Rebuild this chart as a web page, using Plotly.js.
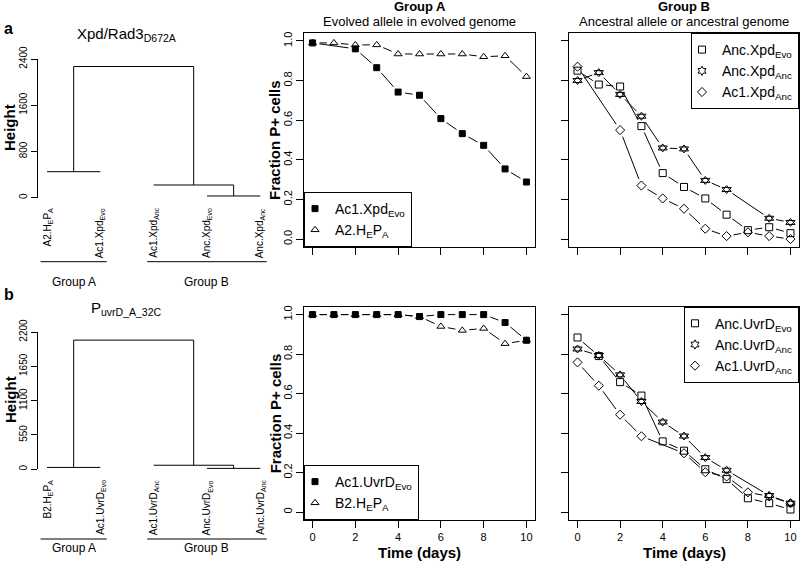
<!DOCTYPE html>
<html><head><meta charset="utf-8">
<script src="https://cdn.plot.ly/plotly-3.0.1.min.js"></script>
<style>html,body{margin:0;padding:0;background:#fff}#chart{width:800px;height:561px}</style>
</head><body><div id="chart"></div>
<script>
// ---------------- data ----------------
const days = [0,1,2,3,4,5,6,7,8,9,10];
const dayTicks = [0,2,4,6,8,10];
const fracTicks = [0,0.2,0.4,0.6,0.8,1.0];
const fracTickTextA = ['0.0','0.2','0.4','0.6','0.8','1.0'];
const fracTickTextB = ['0','0.2','0.4','0.6','0.8','1.0'];

// panel a dendrogram (hclust-style merges; negative = leaf)
const xpdLeaves = ['A2.H<sub>E</sub>P<sub>A</sub>','Ac1.Xpd<sub>Evo</sub>','Ac1.Xpd<sub>Anc</sub>','Anc.Xpd<sub>Evo</sub>','Anc.Xpd<sub>Anc</sub>'];
const xpdMerge = [[-1,-2],[-4,-5],[-3,2],[1,3]];
const xpdHeights = [450,30,220,2270];
const xpdHeightTicks = [0,800,1600,2400];

// panel b dendrogram
const uvrLeaves = ['B2.H<sub>E</sub>P<sub>A</sub>','Ac1.UvrD<sub>Evo</sub>','Ac1.UvrD<sub>Anc</sub>','Anc.UvrD<sub>Evo</sub>','Anc.UvrD<sub>Anc</sub>'];
const uvrMerge = [[-1,-2],[-4,-5],[-3,2],[1,3]];
const uvrHeights = [30,15,65,2070];
const uvrHeightTicks = [0,550,1100,1650,2200];

// panel a, Group A
const ac1XpdEvo = [0.99,null,0.96,0.865,0.742,0.726,0.608,0.532,0.473,0.354,0.288];
const a2HEPA    = [0.99,0.99,0.98,0.98,0.934,0.934,0.934,0.934,0.92,0.925,0.82];
// panel a, Group B
const ancXpdEvo = [0.85,0.78,0.77,0.57,0.333,0.263,0.205,0.123,0.045,0.06,0.03];
const ancXpdAnc = [0.80,0.84,0.73,0.62,0.46,0.455,0.296,0.25,null,0.105,0.084];
const ac1XpdAnc = [0.87,null,0.55,0.27,0.205,0.153,0.052,0.015,0.034,0.015,0.0];
// panel b, Group A
const ac1UvrDEvo = [1,1,1,1,1,0.99,1,1,1,0.96,0.87];
const b2HEPA     = [1,1,1,1,1,0.99,0.94,0.92,0.93,0.853,0.87];
// panel b, Group B
const ancUvrDEvo = [0.884,0.79,0.658,0.59,0.358,0.311,0.217,0.167,0.07,0.045,0.013];
const ancUvrDAnc = [0.826,0.793,0.695,0.56,0.456,0.385,0.276,0.212,null,0.084,0.045];
const ac1UvrDAnc = [0.758,0.64,0.493,0.384,null,0.298,0.202,0.18,0.10,0.08,0.045];

// ---------------- layout helpers ----------------
const W = 800, H = 561;
const FONT = 'Liberation Sans, Arial, Helvetica, sans-serif';
const px = v => v / W;
const py = v => 1 - v / H;

const xRange = [-0.4, 10.4];
const yRange = [-0.04, 1.04];
const midX = [304, 535], rightX = [569, 799];
const topY = [33, 247], botY = [306.7, 520];

function gapped(xs, ys, kx, ky, g) {
  const pts = [];
  xs.forEach((x, i) => { if (ys[i] !== null) pts.push([x, ys[i]]); });
  const ox = [], oy = [];
  for (let i = 0; i < pts.length - 1; i++) {
    const [x0, y0] = pts[i], [x1, y1] = pts[i + 1];
    const L = Math.hypot((x1 - x0) * kx, (y1 - y0) * ky);
    if (L <= 2 * g) continue;
    const f = g / L;
    ox.push(x0 + (x1 - x0) * f, x1 - (x1 - x0) * f, null);
    oy.push(y0 + (y1 - y0) * f, y1 - (y1 - y0) * f, null);
  }
  return { x: ox, y: oy };
}

const traces = [];
const lineStyle = { color: '#000', width: 1 };

function addPanel(xa, ya, xpx, ypx, legend, series) {
  const kx = (xpx[1] - xpx[0]) / (xRange[1] - xRange[0]);
  const ky = (ypx[1] - ypx[0]) / (yRange[1] - yRange[0]);
  series.forEach(s => {
    const seg = gapped(days, s.y, kx, ky, 7);
    traces.push({ type: 'scatter', mode: 'lines', x: seg.x, y: seg.y, xaxis: xa, yaxis: ya,
      line: lineStyle, showlegend: false, hoverinfo: 'skip', connectgaps: false });
  });
  series.forEach(s => {
    if (s.hex) {
      traces.push({ type: 'scatter', mode: 'markers', x: [null], y: [null], xaxis: xa, yaxis: ya,
        name: s.name, legend: legend,
        marker: { symbol: 'hexagram-open', size: 7, color: '#000', line: { width: 1, color: '#000' } } });
      ['triangle-up-open', 'triangle-down-open'].forEach(sym => {
        traces.push({ type: 'scatter', mode: 'markers', x: days, y: s.y, xaxis: xa, yaxis: ya,
          showlegend: false, marker: { symbol: sym, size: 8, color: '#000', line: { width: 1, color: '#000' } } });
      });
    } else {
      traces.push({ type: 'scatter', mode: 'markers', x: days, y: s.y, xaxis: xa, yaxis: ya,
        name: s.name, legend: legend,
        marker: { symbol: s.symbol, size: s.size, color: '#000', line: { width: 1, color: '#000' } } });
    }
  });
}

addPanel('x2', 'y2', midX, topY, 'legend', [
  { y: ac1XpdEvo, name: 'Ac1.Xpd<sub>Evo</sub>', symbol: 'square', size: 6 },
  { y: a2HEPA, name: 'A2.H<sub>E</sub>P<sub>A</sub>', symbol: 'triangle-up-open', size: 7 }
]);
addPanel('x3', 'y3', rightX, topY, 'legend2', [
  { y: ancXpdEvo, name: 'Anc.Xpd<sub>Evo</sub>', symbol: 'square-open', size: 7 },
  { y: ancXpdAnc, name: 'Anc.Xpd<sub>Anc</sub>', hex: true },
  { y: ac1XpdAnc, name: 'Ac1.Xpd<sub>Anc</sub>', symbol: 'diamond-open', size: 7 }
]);
addPanel('x5', 'y5', midX, botY, 'legend3', [
  { y: ac1UvrDEvo, name: 'Ac1.UvrD<sub>Evo</sub>', symbol: 'square', size: 6 },
  { y: b2HEPA, name: 'B2.H<sub>E</sub>P<sub>A</sub>', symbol: 'triangle-up-open', size: 7 }
]);
addPanel('x6', 'y6', rightX, botY, 'legend4', [
  { y: ancUvrDEvo, name: 'Anc.UvrD<sub>Evo</sub>', symbol: 'square-open', size: 7 },
  { y: ancUvrDAnc, name: 'Anc.UvrD<sub>Anc</sub>', hex: true },
  { y: ac1UvrDAnc, name: 'Ac1.UvrD<sub>Anc</sub>', symbol: 'diamond-open', size: 7 }
]);

// dendrogram segments computed from merge table + heights
function dendro(merge, heights, xa, ya) {
  const pos = [];
  const xs = [], ys = [];
  const p = c => c < 0 ? -c : pos[c - 1];
  merge.forEach((m, i) => {
    const h = heights[i];
    const a = p(m[0]), b = p(m[1]);
    xs.push(a, b, null); ys.push(h, h, null);
    m.forEach(c => { if (c > 0) { xs.push(pos[c - 1], pos[c - 1], null); ys.push(heights[c - 1], h, null); } });
    pos.push((a + b) / 2);
  });
  traces.push({ type: 'scatter', mode: 'lines', x: xs, y: ys, xaxis: xa, yaxis: ya,
    line: lineStyle, showlegend: false, hoverinfo: 'skip', connectgaps: false });
}
dendro(xpdMerge, xpdHeights, 'x', 'y');
dendro(uvrMerge, uvrHeights, 'x4', 'y4');

// ---------------- axes ----------------
const dendX = [38, 270];
const leafPx0 = 47, leafStep = 53.33;
const dendXRange = [1 - (leafPx0 - dendX[0]) / leafStep, 1 + (dendX[1] - leafPx0) / leafStep];

function dAxisX(anchor) {
  return { domain: [px(dendX[0]), px(dendX[1])], range: dendXRange, visible: false, anchor: anchor, fixedrange: true };
}
function dAxisY(anchor, ypx, ticks) {
  return { domain: [py(ypx[0]), py(ypx[1])], range: [0, ticks[ticks.length - 1]], anchor: anchor,
    showline: true, linecolor: '#000', linewidth: 1, ticks: 'outside', ticklen: 6, tickcolor: '#000',
    tickvals: ticks, tickangle: -90, tickfont: { size: 10, color: '#000' },
    showgrid: false, zeroline: false, fixedrange: true };
}
function lAxisX(anchor, xpx, labels) {
  return { domain: [px(xpx[0]), px(xpx[1])], range: xRange, anchor: anchor,
    showline: true, mirror: true, linecolor: '#000', linewidth: 1,
    ticks: 'outside', ticklen: 7, tickcolor: '#000', tickvals: dayTicks,
    showticklabels: labels, tickfont: { size: 11, color: '#000' },
    showgrid: false, zeroline: false, fixedrange: true };
}
function lAxisY(anchor, ypx, text) {
  return { domain: [py(ypx[1]), py(ypx[0])], range: yRange, anchor: anchor,
    showline: true, mirror: true, linecolor: '#000', linewidth: 1,
    ticks: 'outside', ticklen: 7, tickcolor: '#000', tickvals: fracTicks,
    ticktext: text || fracTicks.map(String), showticklabels: !!text, tickangle: -90,
    tickfont: { size: 11, color: '#000' },
    showgrid: false, zeroline: false, fixedrange: true };
}

// ---------------- annotations & shapes ----------------
const ann = [];
const shapes = [];
function A(o) { ann.push(Object.assign({ showarrow: false, xref: 'paper', yref: 'paper', font: { family: FONT, size: 13, color: '#000' } }, o)); }

A({ text: '<b>a</b>', x: px(2), y: py(28), xanchor: 'left', yanchor: 'middle', font: { family: FONT, size: 16, color: '#000' } });
A({ text: '<b>b</b>', x: px(2), y: py(294), xanchor: 'left', yanchor: 'middle', font: { family: FONT, size: 16, color: '#000' } });
A({ text: 'Xpd/Rad3<sub>D672A</sub>', x: px(126), y: py(35), xanchor: 'center', yanchor: 'middle', font: { family: FONT, size: 15, color: '#000' } });
A({ text: 'P<sub>uvrD_A_32C</sub>', x: px(126), y: py(308), xanchor: 'center', yanchor: 'middle', font: { family: FONT, size: 15, color: '#000' } });

const midC = (midX[0] + midX[1]) / 2, rightC = (rightX[0] + rightX[1]) / 2;
A({ text: '<b>Group A</b>', x: px(midC), y: py(7), xanchor: 'center', yanchor: 'middle' });
A({ text: 'Evolved allele in evolved genome', x: px(midC), y: py(22), xanchor: 'center', yanchor: 'middle' });
A({ text: '<b>Group B</b>', x: px(rightC), y: py(7), xanchor: 'center', yanchor: 'middle' });
A({ text: 'Ancestral allele or ancestral genome', x: px(rightC), y: py(22), xanchor: 'center', yanchor: 'middle' });

[[topY], [botY]].forEach(([yy]) => {
  A({ text: '<b>Fraction P+ cells</b>', x: px(275), y: py((yy[0] + yy[1]) / 2), textangle: -90, xanchor: 'center', yanchor: 'middle', font: { family: FONT, size: 15, color: '#000' } });
});
A({ text: '<b>Time (days)</b>', x: px(midC), y: py(552), xanchor: 'center', yanchor: 'middle', font: { family: FONT, size: 15, color: '#000' } });
A({ text: '<b>Time (days)</b>', x: px(rightC), y: py(552), xanchor: 'center', yanchor: 'middle', font: { family: FONT, size: 15, color: '#000' } });
A({ text: '<b>Height</b>', x: px(10), y: py(128), textangle: -90, xanchor: 'center', yanchor: 'middle', font: { family: FONT, size: 15, color: '#000' } });
A({ text: '<b>Height</b>', x: px(10), y: py(400), textangle: -90, xanchor: 'center', yanchor: 'middle', font: { family: FONT, size: 15, color: '#000' } });

function leafLabels(leaves, xa, topPx, linePx, labelPx) {
  leaves.forEach((t, i) => {
    ann.push({ text: t, x: i + 1, xref: xa, y: py(topPx), yref: 'paper', textangle: -90,
      xanchor: 'center', yanchor: 'top', showarrow: false, font: { family: FONT, size: 10, color: '#000' } });
  });
  const groups = [[1, 2, 'Group A'], [3, 5, 'Group B']];
  groups.forEach(([a, b, name]) => {
    shapes.push({ type: 'line', xref: xa, yref: 'paper', x0: a - 0.12, x1: b + 0.12, y0: py(linePx), y1: py(linePx), line: { color: '#000', width: 1 } });
    ann.push({ text: name, x: (a + b) / 2, xref: xa, y: py(labelPx), yref: 'paper', xanchor: 'center', yanchor: 'middle',
      showarrow: false, font: { family: FONT, size: 12, color: '#000' } });
  });
}
leafLabels(xpdLeaves, 'x', 206, 261.7, 282);
leafLabels(uvrLeaves, 'x4', 478, 539, 548);

const legBase = { bordercolor: '#000', borderwidth: 1, bgcolor: '#fff', font: { family: FONT, size: 14, color: '#000' },
  itemclick: false, itemdoubleclick: false, tracegroupgap: 0, indentation: -10 };

const layout = {
  width: W, height: H, margin: { l: 0, r: 0, t: 0, b: 0 },
  paper_bgcolor: '#fff', plot_bgcolor: 'rgba(0,0,0,0)',
  font: { family: FONT, color: '#000' },
  showlegend: true,
  xaxis: dAxisX('y'), yaxis: dAxisY('x', [197.7, 59], xpdHeightTicks),
  xaxis4: dAxisX('y4'), yaxis4: dAxisY('x4', [469.3, 332], uvrHeightTicks),
  xaxis2: lAxisX('y2', midX, false), yaxis2: lAxisY('x2', topY, fracTickTextA),
  xaxis3: lAxisX('y3', rightX, false), yaxis3: lAxisY('x3', topY, null),
  xaxis5: lAxisX('y5', midX, true), yaxis5: lAxisY('x5', botY, fracTickTextB),
  xaxis6: lAxisX('y6', rightX, true), yaxis6: lAxisY('x6', botY, null),
  legend: Object.assign({}, legBase, { x: px(midX[0]), y: py(topY[1]), xanchor: 'left', yanchor: 'bottom' }),
  legend2: Object.assign({}, legBase, { x: px(rightX[1]), y: py(topY[0]), xanchor: 'right', yanchor: 'top' }),
  legend3: Object.assign({}, legBase, { x: px(midX[0]), y: py(botY[1]), xanchor: 'left', yanchor: 'bottom' }),
  legend4: Object.assign({}, legBase, { x: px(rightX[1]), y: py(botY[0]), xanchor: 'right', yanchor: 'top' }),
  annotations: ann, shapes: shapes, hovermode: false
};

Plotly.newPlot('chart', traces, layout, { staticPlot: true, displayModeBar: false });
</script></body></html>
